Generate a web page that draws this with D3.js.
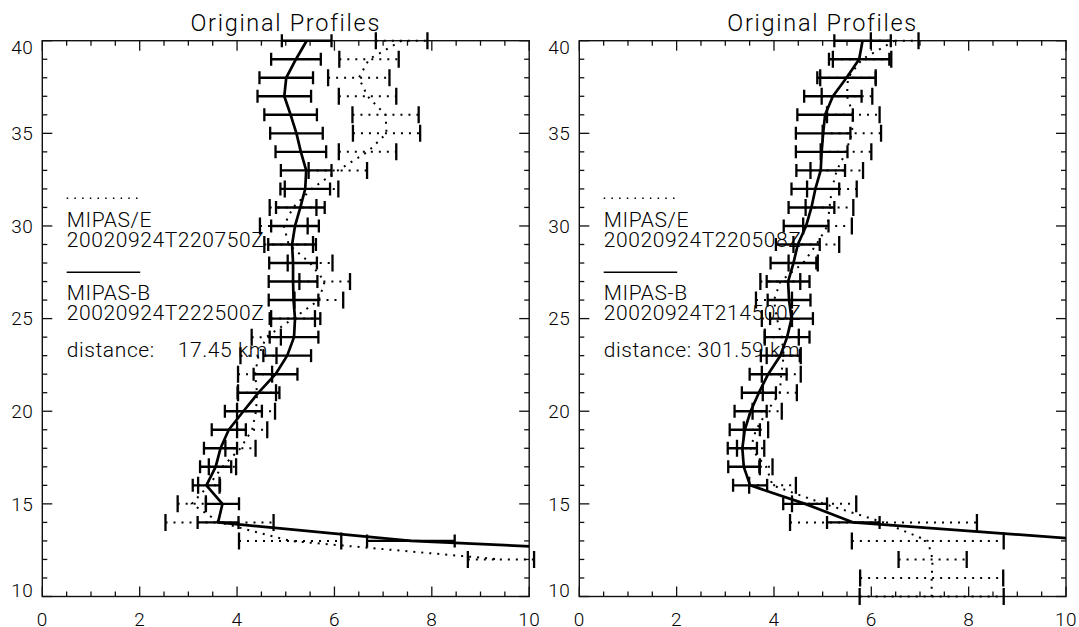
<!DOCTYPE html>
<html>
<head>
<meta charset="utf-8">
<script src="https://cdn.jsdelivr.net/npm/d3@7"></script>
<style>
  html, body { margin: 0; padding: 0; background: #fff; }
  svg text { font-family: Roboto, "DejaVu Sans", sans-serif; font-weight: 300; fill: #000; }
</style>
</head>
<body>
<svg id="chart" width="1079" height="627"></svg>
<script>
// ---- data: ozone profiles (x) against altitude in km (y) ----
const xTicks = [0, 2, 4, 6, 8, 10];
const yTicks = [10, 15, 20, 25, 30, 35, 40];
const titleText = "Original Profiles";

// left panel
const altE_L = d3.range(40, 11, -1);            // 40 .. 12 km
const valE_L = [7.38, 6.71, 6.50, 6.68, 7.05, 7.07, 6.68, 6.07, 5.53, 5.15,
                4.96, 5.06, 5.50, 5.80, 5.68, 5.15, 4.60, 4.44, 4.37, 4.41,
                4.39, 4.31, 4.07, 3.70, 3.42, 3.07, 3.64, 5.09, 9.42];
const errE_L = [0.53, 0.61, 0.63, 0.59, 0.68, 0.69, 0.59, 0.60, 0.55, 0.48,
                0.49, 0.50, 0.46, 0.52, 0.50, 0.45, 0.30, 0.37, 0.35, 0.39,
                0.39, 0.31, 0.31, 0.28, 0.22, 0.29, 1.11, 1.05, 0.68];
const altB_L = d3.range(40, 11, -1);            // 40 .. 12 km
const valB_L = [5.43, 5.21, 5.01, 4.97, 5.10, 5.22, 5.31, 5.42, 5.40, 5.30,
                5.19, 5.13, 5.15, 5.15, 5.16, 5.19, 5.17, 5.03, 4.79, 4.44,
                4.13, 3.83, 3.66, 3.56, 3.37, 3.70, 3.61, 7.57, 15.9];
const errB_L = [0.51, 0.51, 0.55, 0.55, 0.54, 0.54, 0.52, 0.52, 0.51, 0.50,
                0.49, 0.49, 0.49, 0.50, 0.51, 0.52, 0.50, 0.49, 0.45, 0.43,
                0.38, 0.35, 0.34, 0.32, 0.28, 0.34, 0.42, 0.90, 0.50];
const legend_L = ["MIPAS/E", "20020924T220750Z", "MIPAS-B", "20020924T222500Z",
                  "distance:    17.45 km"];

// right panel
const altE_R = d3.range(40, 9, -1);             // 40 .. 10 km
const valE_R = [6.48, 5.81, 5.52, 5.50, 5.63, 5.60, 5.48, 5.29, 5.19, 5.14,
                5.10, 4.87, 4.60, 4.13, 4.00, 4.06, 4.16, 4.20, 4.15, 4.12,
                3.86, 3.63, 3.52, 3.84, 3.97, 5.03, 6.25, 7.16, 7.26, 7.24, 7.24];
const errE_R = [0.49, 0.60, 0.57, 0.52, 0.54, 0.60, 0.52, 0.54, 0.51, 0.49,
                0.50, 0.47, 0.30, 0.41, 0.37, 0.31, 0.35, 0.35, 0.40, 0.35,
                0.30, 0.25, 0.28, 0.13, 0.48, 0.66, 1.92, 1.56, 0.70, 1.47, 1.48];
const altB_R = d3.range(40, 12, -1);            // 40 .. 13 km
const valB_R = [5.82, 5.75, 5.49, 5.21, 5.05, 5.01, 4.98, 4.96, 4.85, 4.77,
                4.66, 4.49, 4.40, 4.29, 4.31, 4.36, 4.27, 4.13, 3.88, 3.69,
                3.52, 3.40, 3.35, 3.38, 3.51, 4.64, 5.63, 10.78];
const errB_R = [0.58, 0.62, 0.60, 0.59, 0.57, 0.56, 0.53, 0.50, 0.49, 0.47,
                0.46, 0.45, 0.47, 0.44, 0.44, 0.44, 0.46, 0.40, 0.38, 0.35,
                0.33, 0.31, 0.30, 0.32, 0.35, 0.45, 0.54, 0.50];
const legend_R = ["MIPAS/E", "20020924T220508Z", "MIPAS-B", "20020924T214500Z",
                  "distance: 301.59 km"];

// ---- layout ----
const svg = d3.select("#chart");
const TOP = 40.7, BOTTOM = 596.5;
const y = d3.scaleLinear().domain([10, 40]).range([BOTTOM, TOP]);

const zip = (alt, val, err) => alt.map((a, i) => ({ alt: a, v: val[i], e: err[i] }));

const panels = [
  { x0: 42.3, x1: 529.2, E: zip(altE_L, valE_L, errE_L), B: zip(altB_L, valB_L, errB_L), legend: legend_L },
  { x0: 579.3, x1: 1066, E: zip(altE_R, valE_R, errE_R), B: zip(altB_R, valB_R, errB_R), legend: legend_R }
];

const DOTS = "2,6";

panels.forEach((p, pi) => {
  const x = d3.scaleLinear().domain([0, 10]).range([p.x0, p.x1]);
  const g = svg.append("g");

  // clip regions: profile lines stay inside the frame, error bars may poke out a little
  const clipId = "plot" + pi, clipBarsId = "bars" + pi;
  const defs = svg.append("defs");
  defs.append("clipPath").attr("id", clipId).append("rect")
    .attr("x", p.x0).attr("y", TOP).attr("width", p.x1 - p.x0).attr("height", BOTTOM - TOP);
  defs.append("clipPath").attr("id", clipBarsId).append("rect")
    .attr("x", p.x0 - 8).attr("y", TOP - 15).attr("width", p.x1 - p.x0 + 16).attr("height", BOTTOM - TOP + 30);

  // frame
  g.append("rect").attr("x", p.x0).attr("y", TOP)
    .attr("width", p.x1 - p.x0).attr("height", BOTTOM - TOP)
    .attr("fill", "none").attr("stroke", "#111").attr("stroke-width", 1.4);

  // ticks (major + minor) on all four sides
  const tickG = g.append("g").attr("stroke", "#111").attr("stroke-width", 1.3);
  const xMinor = d3.range(0, 10.001, 0.5);
  xMinor.forEach(t => {
    const major = Math.abs(t / 2 - Math.round(t / 2)) < 1e-6;
    const len = major ? 10 : 5;
    tickG.append("line").attr("x1", x(t)).attr("x2", x(t)).attr("y1", BOTTOM).attr("y2", BOTTOM - len);
    tickG.append("line").attr("x1", x(t)).attr("x2", x(t)).attr("y1", TOP).attr("y2", TOP + len);
  });
  const yMinor = d3.range(10, 40.001, 1);
  yMinor.forEach(t => {
    const len = (t % 5 === 0) ? 10 : 5;
    tickG.append("line").attr("y1", y(t)).attr("y2", y(t)).attr("x1", p.x0).attr("x2", p.x0 + len);
    tickG.append("line").attr("y1", y(t)).attr("y2", y(t)).attr("x1", p.x1).attr("x2", p.x1 - len);
  });

  // tick labels
  g.selectAll(".xl").data(xTicks).enter().append("text")
    .attr("x", d => x(d)).attr("y", 626)
    .attr("text-anchor", "middle").style("font-size", "19px").style("letter-spacing", "0.5px")
    .text(d => d);
  const half = 6.7;
  g.selectAll(".yl").data(yTicks).enter().append("text")
    .attr("x", p.x0 - 9)
    .attr("y", d => Math.min(Math.max(y(d), TOP + half), BOTTOM - half) + half)
    .attr("text-anchor", "end").style("font-size", "19px").style("letter-spacing", "0.5px")
    .text(d => d);

  // title
  g.append("text").attr("x", (p.x0 + p.x1) / 2).attr("y", 30.5)
    .attr("text-anchor", "middle").style("font-size", "23.5px").style("letter-spacing", "1.7px")
    .text(titleText);

  // legend
  const lx = p.x0 + 24.4;
  g.append("line").attr("x1", lx).attr("x2", lx + 72).attr("y1", 198.3).attr("y2", 198.3)
    .attr("stroke", "#000").attr("stroke-width", 1.5).attr("stroke-dasharray", "1.5,6.2");
  g.append("line").attr("x1", lx).attr("x2", lx + 73.5).attr("y1", 272.3).attr("y2", 272.3)
    .attr("stroke", "#000").attr("stroke-width", 1.4);
  const lyPos = [226.7, 246.5, 300, 319.5, 356.7];
  p.legend.forEach((s, i) => {
    g.append("text").attr("x", lx).attr("y", lyPos[i])
      .style("font-size", "21px").style("letter-spacing", "0.6px").style("white-space", "pre")
      .text(s);
  });

  // error bars
  const bars = g.append("g").attr("clip-path", `url(#${clipBarsId})`);
  const drawBars = (data, dotted, capHalf, width) => {
    const gg = bars.append("g").attr("stroke", "#000");
    gg.selectAll(".bar").data(data).enter().append("line")
      .attr("x1", d => x(d.v - d.e)).attr("x2", d => x(d.v + d.e))
      .attr("y1", d => y(d.alt)).attr("y2", d => y(d.alt))
      .attr("stroke-width", width)
      .attr("stroke-dasharray", dotted ? DOTS : null);
    ["lo", "hi"].forEach(side => {
      gg.selectAll(".cap" + side).data(data).enter().append("line")
        .attr("x1", d => x(side === "lo" ? d.v - d.e : d.v + d.e))
        .attr("x2", d => x(side === "lo" ? d.v - d.e : d.v + d.e))
        .attr("y1", d => y(d.alt) - capHalf).attr("y2", d => y(d.alt) + capHalf)
        .attr("stroke-width", 2.3);
    });
  };
  drawBars(p.E, true, 8.5, 2);
  drawBars(p.B, false, 6.5, 2.4);

  // profile lines
  const lines = g.append("g").attr("clip-path", `url(#${clipId})`);
  const line = d3.line().x(d => x(d.v)).y(d => y(d.alt));
  lines.append("path").attr("d", line(p.E)).attr("fill", "none")
    .attr("stroke", "#000").attr("stroke-width", 2).attr("stroke-dasharray", DOTS);
  lines.append("path").attr("d", line(p.B)).attr("fill", "none")
    .attr("stroke", "#000").attr("stroke-width", 2.7).attr("stroke-linejoin", "round");
});
</script>
</body>
</html>
